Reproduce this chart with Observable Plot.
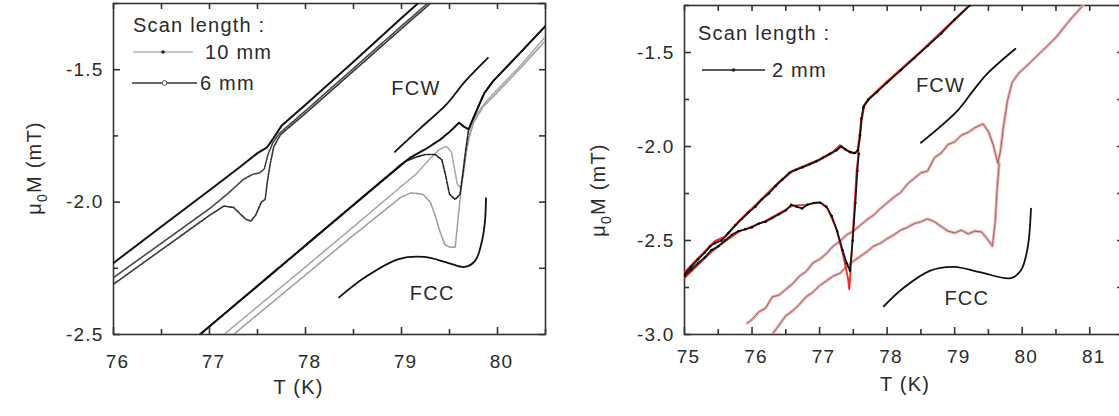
<!DOCTYPE html>
<html>
<head>
<meta charset="utf-8">
<script src="https://cdn.jsdelivr.net/npm/d3@7"></script>
<script src="https://cdn.jsdelivr.net/npm/@observablehq/plot@0.6"></script>
<style>
  html, body { margin: 0; padding: 0; background: #fff; overflow: hidden; }
  #fig { position: relative; width: 1119px; height: 416px; overflow: hidden; }
  #fig svg { position: absolute; top: 0; max-width: none !important; }
</style>
</head>
<body>
<div id="fig"></div>
<script>
// ---------- tick values ----------
const leftXTicks = [76, 77, 78, 79, 80];
const leftXMinor = [76.5, 77.5, 78.5, 79.5, 80.5];
const leftYTicks = [-2.5, -2.0, -1.5];
const leftYMinor = [-2.25, -1.75, -1.25];
const rightXTicks = [75, 76, 77, 78, 79, 80, 81];
const rightXMinor = [75.5, 76.5, 77.5, 78.5, 79.5, 80.5, 81.5];
const rightYTicks = [-3.0, -2.5, -2.0, -1.5];
const rightYMinor = [-2.75, -2.25, -1.75, -1.25];

// ---------- left panel: 10 mm and 6 mm scans, [T (K), mu0 M (mT)] ----------
// lower-temperature pair (transition near 77.6 K)
const leftA6mmWarm = [[76.0,-2.23],[76.5,-2.092],[77.0,-1.955],[77.3,-1.872],[77.5,-1.815],[77.6,-1.793],[77.66,-1.762],[77.75,-1.712],[78.0,-1.632],[78.5,-1.47],[79.0,-1.305],[79.17,-1.25]];
const leftA6mmCool = [[76.0,-2.31],[76.5,-2.18],[77.0,-2.05],[77.15,-2.015],[77.25,-2.02],[77.32,-2.045],[77.38,-2.065],[77.43,-2.072],[77.48,-2.05],[77.54,-2.0],[77.58,-1.99],[77.6,-1.93],[77.63,-1.86],[77.67,-1.79],[77.74,-1.745],[78.0,-1.665],[78.5,-1.505],[79.0,-1.345],[79.3,-1.25]];
const leftA10mm = [[76.0,-2.285],[76.5,-2.155],[77.0,-2.025],[77.2,-1.965],[77.35,-1.915],[77.45,-1.895],[77.52,-1.89],[77.57,-1.875],[77.61,-1.82],[77.66,-1.775],[77.73,-1.74],[78.0,-1.655],[78.5,-1.495],[79.0,-1.335],[79.27,-1.25]];
// higher-temperature pair (transition near 79.6 K)
const leftB6mmWarm = [[76.9,-2.5],[77.5,-2.316],[78.0,-2.163],[78.5,-2.01],[79.0,-1.857],[79.1,-1.83],[79.25,-1.8],[79.4,-1.765],[79.5,-1.735],[79.6,-1.70],[79.65,-1.715],[79.7,-1.725],[79.74,-1.69],[79.8,-1.64],[79.86,-1.59],[79.95,-1.545],[80.2,-1.45],[80.5,-1.335]];
const leftB6mmCool = [[80.5,-1.335],[80.2,-1.45],[79.95,-1.545],[79.86,-1.59],[79.8,-1.64],[79.74,-1.69],[79.7,-1.725],[79.67,-1.80],[79.64,-1.89],[79.61,-1.97],[79.56,-1.99],[79.5,-1.97],[79.46,-1.90],[79.42,-1.84],[79.35,-1.82],[79.25,-1.82],[79.15,-1.83],[79.05,-1.845],[78.5,-2.012],[78.0,-2.165],[77.5,-2.318],[76.9,-2.5]];
const leftB10mmWarm = [[77.15,-2.5],[77.5,-2.395],[78.0,-2.245],[78.5,-2.093],[79.0,-1.94],[79.15,-1.895],[79.3,-1.835],[79.4,-1.80],[79.47,-1.79],[79.52,-1.81],[79.55,-1.87],[79.58,-1.93],[79.62,-1.95],[79.65,-1.88],[79.68,-1.80],[79.72,-1.73],[79.78,-1.67],[79.88,-1.62],[80.0,-1.575],[80.25,-1.48],[80.5,-1.375]];
const leftB10mmCool = [[80.5,-1.39],[80.25,-1.49],[80.0,-1.585],[79.85,-1.64],[79.75,-1.70],[79.7,-1.76],[79.66,-1.84],[79.62,-1.95],[79.59,-2.06],[79.56,-2.17],[79.5,-2.17],[79.45,-2.16],[79.4,-2.11],[79.35,-2.05],[79.3,-2.0],[79.22,-1.97],[79.1,-1.965],[79.0,-1.98],[78.5,-2.125],[78.0,-2.275],[77.5,-2.425],[77.25,-2.5]];
// schematic warming / cooling branches
const leftFCW = [[78.93,-1.81],[79.2,-1.72],[79.47,-1.63],[79.66,-1.545],[79.9,-1.455]];
const leftFCC = [[78.35,-2.36],[78.62,-2.284],[78.97,-2.215],[79.24,-2.207],[79.49,-2.23],[79.66,-2.245],[79.77,-2.22],[79.84,-2.144],[79.87,-2.07],[79.88,-1.985]];
const leftNotes = [{T: 79.15, M: -1.572, text: "FCW"}, {T: 79.32, M: -2.345, text: "FCC"}];

// ---------- right panel: 2 mm scans ----------
const right2mmUp = [[75.0,-2.68],[75.1,-2.64],[75.2,-2.6],[75.3,-2.565],[75.38,-2.53],[75.45,-2.515],[75.55,-2.5],[75.65,-2.46],[75.75,-2.42],[75.85,-2.385],[75.95,-2.35],[76.05,-2.32],[76.15,-2.28],[76.25,-2.25],[76.35,-2.21],[76.45,-2.175],[76.55,-2.14],[76.65,-2.125],[76.75,-2.11],[76.85,-2.095],[76.95,-2.08],[77.05,-2.06],[77.15,-2.04],[77.25,-2.02],[77.32,-2.0],[77.38,-2.015],[77.45,-2.03],[77.52,-2.035],[77.57,-2.02],[77.6,-1.94],[77.62,-1.85],[77.65,-1.79],[77.72,-1.75],[77.85,-1.71],[78.0,-1.66],[78.2,-1.595],[78.4,-1.53],[78.6,-1.465],[78.8,-1.4],[79.0,-1.325],[79.22,-1.25]];
const right2mmDown = [[75.0,-2.69],[75.1,-2.655],[75.2,-2.62],[75.3,-2.59],[75.4,-2.55],[75.5,-2.53],[75.6,-2.5],[75.7,-2.47],[75.8,-2.45],[75.9,-2.44],[76.0,-2.43],[76.1,-2.41],[76.2,-2.4],[76.3,-2.38],[76.4,-2.36],[76.5,-2.34],[76.58,-2.31],[76.66,-2.32],[76.74,-2.33],[76.82,-2.31],[76.92,-2.3],[77.02,-2.3],[77.1,-2.32],[77.18,-2.37],[77.26,-2.45],[77.34,-2.55],[77.4,-2.62],[77.45,-2.66],[77.49,-2.5],[77.53,-2.3],[77.56,-2.13],[77.58,-2.04]];
const right2mmUpRed = [[75.0,-2.67],[75.15,-2.615],[75.3,-2.56],[75.45,-2.505],[75.6,-2.48],[75.8,-2.4],[76.0,-2.33],[76.2,-2.26],[76.4,-2.19],[76.6,-2.13],[76.8,-2.1],[77.0,-2.07],[77.2,-2.03],[77.3,-1.995],[77.4,-2.02],[77.5,-2.035],[77.56,-2.03],[77.59,-1.96],[77.62,-1.86],[77.66,-1.78],[77.75,-1.74],[78.0,-1.655],[78.5,-1.495],[79.0,-1.325],[79.22,-1.25]];
const right2mmDownRed = [[75.0,-2.70],[75.2,-2.63],[75.4,-2.56],[75.6,-2.505],[75.8,-2.455],[76.0,-2.425],[76.2,-2.395],[76.4,-2.355],[76.6,-2.315],[76.8,-2.31],[77.0,-2.295],[77.12,-2.33],[77.25,-2.44],[77.35,-2.58],[77.42,-2.7],[77.44,-2.76],[77.47,-2.6],[77.51,-2.35],[77.55,-2.12],[77.58,-2.03]];
const rightPinkUp = [[75.93,-2.94],[76.0,-2.92],[76.1,-2.88],[76.2,-2.86],[76.3,-2.8],[76.4,-2.79],[76.5,-2.76],[76.6,-2.73],[76.7,-2.69],[76.8,-2.665],[76.9,-2.62],[77.0,-2.6],[77.1,-2.57],[77.2,-2.53],[77.3,-2.505],[77.4,-2.47],[77.5,-2.45],[77.6,-2.42],[77.7,-2.39],[77.8,-2.365],[77.9,-2.33],[78.0,-2.3],[78.1,-2.27],[78.2,-2.245],[78.3,-2.2],[78.4,-2.17],[78.5,-2.14],[78.6,-2.13],[78.7,-2.06],[78.8,-2.035],[78.9,-1.99],[79.0,-1.975],[79.1,-1.94],[79.2,-1.925],[79.3,-1.9],[79.42,-1.88],[79.5,-1.92],[79.57,-1.99],[79.64,-2.09],[79.68,-2.02],[79.72,-1.9],[79.78,-1.76],[79.85,-1.66],[79.95,-1.61],[80.1,-1.56],[80.3,-1.49],[80.5,-1.42],[80.7,-1.33],[80.9,-1.25]];
const rightPinkDown = [[76.3,-3.0],[76.4,-2.95],[76.5,-2.9],[76.6,-2.875],[76.7,-2.84],[76.8,-2.8],[76.9,-2.775],[77.0,-2.74],[77.1,-2.715],[77.2,-2.69],[77.3,-2.675],[77.4,-2.64],[77.5,-2.61],[77.6,-2.585],[77.7,-2.56],[77.8,-2.53],[77.9,-2.515],[78.0,-2.49],[78.1,-2.47],[78.2,-2.445],[78.3,-2.43],[78.4,-2.41],[78.5,-2.4],[78.6,-2.385],[78.7,-2.4],[78.8,-2.425],[78.9,-2.45],[79.0,-2.46],[79.1,-2.445],[79.2,-2.465],[79.3,-2.45],[79.4,-2.455],[79.5,-2.5],[79.56,-2.53],[79.6,-2.4],[79.63,-2.22],[79.66,-2.09]];
const rightFCW = [[78.5,-1.98],[79.04,-1.81],[79.28,-1.70],[79.49,-1.61],[79.9,-1.48]];
const rightFCC = [[77.95,-2.85],[78.25,-2.75],[78.64,-2.66],[78.99,-2.64],[79.39,-2.67],[79.83,-2.70],[79.98,-2.66],[80.08,-2.54],[80.13,-2.33]];
const rightNotes = [{T: 78.79, M: -1.675, text: "FCW"}, {T: 79.18, M: -2.81, text: "FCC"}];

// ---------- shared styling ----------
const FONT = "'Liberation Sans', Arial, Helvetica, sans-serif";
const INK = "#2a2a2a";
const FRAME = "#333";
const fmt1 = d => d.toFixed(1);
const px = d => d[0], py = d => d[1];

// frame with short inward ticks on all four sides (W, H: inner plot size in px);
// labels on the bottom and left sides only
function frameAxes(xT, xM, yT, yM, W, H, xPad) {
  const t = {stroke: FRAME, strokeWidth: 1.6};
  return [
    Plot.ruleX(xT, {x: d => d, insetTop: H - 7, ...t}),
    Plot.ruleX(xM, {x: d => d, insetTop: H - 5, ...t}),
    Plot.ruleX(xT.concat(xM), {x: d => d, insetBottom: H - 6, ...t}),
    Plot.ruleY(yT, {y: d => d, insetRight: W - 7, ...t}),
    Plot.ruleY(yM, {y: d => d, insetRight: W - 5, ...t}),
    Plot.ruleY(yT.concat(yM), {y: d => d, insetLeft: W - 6, ...t}),
    Plot.frame({stroke: FRAME, strokeWidth: 1.6}),
    Plot.axisX(xT, {anchor: "bottom", tickSize: 0, tickPadding: xPad, dx: 4, tickFormat: d => String(d), label: null, fill: INK}),
    Plot.axisY(yT, {anchor: "left", tickSize: 0, tickPadding: 10, tickFormat: fmt1, label: null, fill: INK})
  ];
}

const lineOpts = (stroke, w, extra = {}) => ({x: px, y: py, stroke, strokeWidth: w, clip: true, ...extra});

// ---------- left panel ----------
const left = Plot.plot({
  width: 560, height: 416,
  marginLeft: 113, marginRight: 15, marginTop: 3, marginBottom: 82,
  x: {domain: [76, 80.5], axis: null},
  y: {domain: [-2.5, -1.25], axis: null},
  style: {fontFamily: FONT, fontSize: "19px", letterSpacing: "1.2px", color: INK, background: "#fff", overflow: "visible"},
  marks: [
    ...frameAxes(leftXTicks, leftXMinor, leftYTicks, leftYMinor, 432, 331, 20),
    // 10 mm scans
    Plot.line(leftB10mmWarm, lineOpts("#a8a8a8", 1.6, {strokeDasharray: "2.5 1.2"})),
    Plot.line(leftB10mmCool, lineOpts("#a0a0a0", 1.6, {strokeDasharray: "2.5 1.2"})),
    Plot.line(leftA10mm, lineOpts("#444", 1.6, {strokeDasharray: "2 1"})),
    // 6 mm scans
    Plot.line(leftA6mmCool, lineOpts("#333", 1.6, {strokeDasharray: "2 1"})),
    Plot.line(leftB6mmCool, lineOpts("#222", 1.6, {strokeDasharray: "4 1.5"})),
    Plot.line(leftA6mmWarm, lineOpts("#111", 2)),
    Plot.line(leftB6mmWarm, lineOpts("#111", 2, {strokeDasharray: "6 1"})),
    // schematic branches
    Plot.line(leftFCW, lineOpts("#111", 1.8, {curve: "catmull-rom"})),
    Plot.line(leftFCC, lineOpts("#111", 1.8, {curve: "catmull-rom"})),
    Plot.text(leftNotes, {x: "T", y: "M", text: "text", fontSize: 20, fill: INK}),
    Plot.text(["T (K)"], {frameAnchor: "bottom", dx: -31, dy: 59, fontSize: 20, fill: INK})
  ]
});

// ---------- right panel ----------
const right = Plot.plot({
  width: 573, height: 416,
  marginLeft: 124, marginRight: 10, marginTop: 5, marginBottom: 82,
  x: {domain: [75, 81.5], axis: null},
  y: {domain: [-3.0, -1.25], axis: null},
  style: {fontFamily: FONT, fontSize: "19px", letterSpacing: "1.2px", color: INK, background: "#fff", overflow: "visible"},
  marks: [
    ...frameAxes(rightXTicks, rightXMinor, rightYTicks, rightYMinor, 439, 329, 15),
    Plot.line(rightPinkUp, lineOpts("#e9b2b2", 3)),
    Plot.line(rightPinkDown, lineOpts("#e9b2b2", 3)),
    Plot.line(rightPinkUp, lineOpts("#9a5a5a", 0.9)),
    Plot.line(rightPinkDown, lineOpts("#9a5a5a", 0.9)),
    Plot.line(right2mmUpRed, lineOpts("#ee2a22", 2.4)),
    Plot.line(right2mmDownRed, lineOpts("#ee2a22", 1.8)),
    Plot.line(right2mmUp, lineOpts("#151515", 1.7)),
    Plot.line(right2mmDown, lineOpts("#151515", 1.7)),
    Plot.dot(right2mmUp.concat(right2mmDown), {x: px, y: py, r: 1.2, fill: "#000", clip: true}),
    Plot.line(rightFCW, lineOpts("#111", 1.8, {curve: "catmull-rom"})),
    Plot.line(rightFCC, lineOpts("#111", 1.8, {curve: "catmull-rom"})),
    Plot.text(rightNotes, {x: "T", y: "M", text: "text", fontSize: 20, fill: INK}),
    Plot.text(["T (K)"], {frameAnchor: "bottom", dx: 1, dy: 56, fontSize: 20, fill: INK})
  ]
});

const fig = document.getElementById("fig");
left.style.left = "0px";
right.style.left = "560px";
fig.appendChild(left);
fig.appendChild(right);

// y-axis title with a subscript zero
function yTitle(svg, x, y) {
  const t = d3.select(svg).append("text")
    .attr("transform", `translate(${x},${y}) rotate(-90)`)
    .attr("text-anchor", "middle")
    .attr("font-size", 20)
    .attr("fill", INK)
    .attr("dy", "0.35em");
  t.append("tspan").text("μ");
  t.append("tspan").attr("dy", 6).attr("font-size", 14).text("0");
  t.append("tspan").attr("dy", -6).text("M (mT)");
}
yTitle(left, 34, 168);
yTitle(right, 38, 190);

// in-frame legend: heading plus one row per scan length
function legend(svg, x0, yHead, rows) {
  const g = d3.select(svg).append("g").attr("fill", INK).attr("font-size", 20).attr("text-anchor", "start");
  g.append("text").attr("x", x0).attr("y", yHead).attr("dy", "0.35em").text("Scan length :");
  for (const r of rows) {
    g.append("line").attr("x1", r.x1).attr("x2", r.x2).attr("y1", r.y).attr("y2", r.y)
      .attr("stroke", r.stroke).attr("stroke-width", r.width);
    const mx = (r.x1 + r.x2) / 2;
    if (r.marker === "circle") {
      g.append("circle").attr("cx", mx).attr("cy", r.y).attr("r", 2.4)
        .attr("fill", "#fff").attr("stroke", "#555").attr("stroke-width", 1);
    } else {
      g.append("circle").attr("cx", mx).attr("cy", r.y).attr("r", 1.8).attr("fill", "#222");
    }
    g.append("text").attr("x", r.tx).attr("y", r.y).attr("dy", "0.35em").text(r.label);
  }
}
legend(left, 133, 25, [
  {x1: 133, x2: 193, y: 52, stroke: "#b5b5b5", width: 1.3, marker: "dot", tx: 205, label: "10 mm"},
  {x1: 132, x2: 197, y: 83, stroke: "#333", width: 1.3, marker: "circle", tx: 200, label: "6 mm"}
]);
legend(right, 138, 33, [
  {x1: 142, x2: 205, y: 70, stroke: "#222", width: 1.5, marker: "dot", tx: 212, label: "2 mm"}
]);
</script>
</body>
</html>
